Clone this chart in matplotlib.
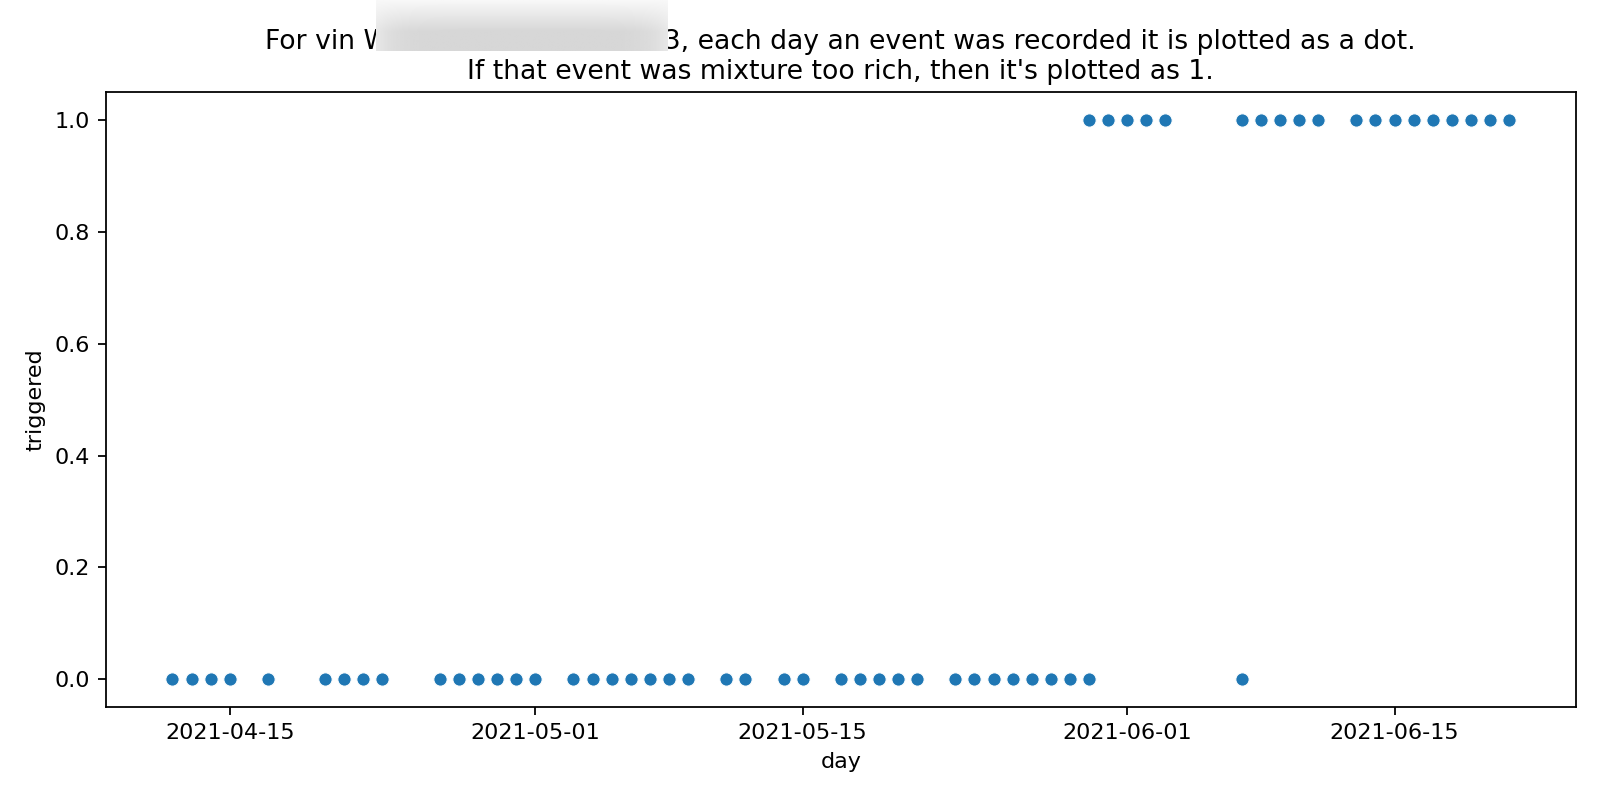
import numpy as np
import pandas as pd
import matplotlib
matplotlib.use("Agg")
import matplotlib.pyplot as plt
import matplotlib.dates as mdates

# days with a recorded event, and whether it was "mixture too rich"
days_zero = [
    "2021-04-12", "2021-04-13", "2021-04-14", "2021-04-15", "2021-04-17",
    "2021-04-20", "2021-04-21", "2021-04-22", "2021-04-23",
    "2021-04-26", "2021-04-27", "2021-04-28", "2021-04-29", "2021-04-30", "2021-05-01",
    "2021-05-03", "2021-05-04", "2021-05-05", "2021-05-06", "2021-05-07", "2021-05-08", "2021-05-09",
    "2021-05-11", "2021-05-12", "2021-05-14", "2021-05-15",
    "2021-05-17", "2021-05-18", "2021-05-19", "2021-05-20", "2021-05-21",
    "2021-05-23", "2021-05-24", "2021-05-25", "2021-05-26", "2021-05-27", "2021-05-28",
    "2021-05-29", "2021-05-30", "2021-06-07",
]
days_one = [
    "2021-05-30", "2021-05-31", "2021-06-01", "2021-06-02", "2021-06-03",
    "2021-06-07", "2021-06-08", "2021-06-09", "2021-06-10", "2021-06-11",
    "2021-06-13", "2021-06-14", "2021-06-15", "2021-06-16", "2021-06-17",
    "2021-06-18", "2021-06-19", "2021-06-20", "2021-06-21",
]
day = pd.to_datetime(days_zero + days_one)
triggered = [0] * len(days_zero) + [1] * len(days_one)

fig, ax = plt.subplots(figsize=(10, 5), dpi=160)
fig.subplots_adjust(left=0.066, right=0.985, top=0.885, bottom=0.116)

ax.scatter(day, triggered, s=36, color="#1f77b4", edgecolor="white", linewidth=0.48)

ax.xaxis.set_major_locator(mdates.DayLocator(bymonthday=[1, 15]))
ax.xaxis.set_major_formatter(mdates.DateFormatter("%Y-%m-%d"))
ax.set_xlabel("day")
ax.set_ylabel("triggered")
ax.set_title("For vin WXXXXXXXXXXXXXXX3, each day an event was recorded it is plotted as a dot.\n"
             "If that event was mixture too rich, then it's plotted as 1.", fontsize=12)

# redaction box over part of the title
gx = np.linspace(-1, 1, 200)
gy = np.linspace(0, 1, 50)
X, Y = np.meshgrid(gx, gy)
shade = 0.97 - 0.13 * np.clip(Y * 1.6, 0, 1) * (1 - 0.5 * X ** 8)
rax = fig.add_axes([376 / 1600, 1 - 51 / 800, 292 / 1600, 51 / 800])
rax.imshow(shade, cmap="gray", vmin=0, vmax=1, aspect="auto", origin="upper")
rax.axis("off")

fig.savefig("out.png")
